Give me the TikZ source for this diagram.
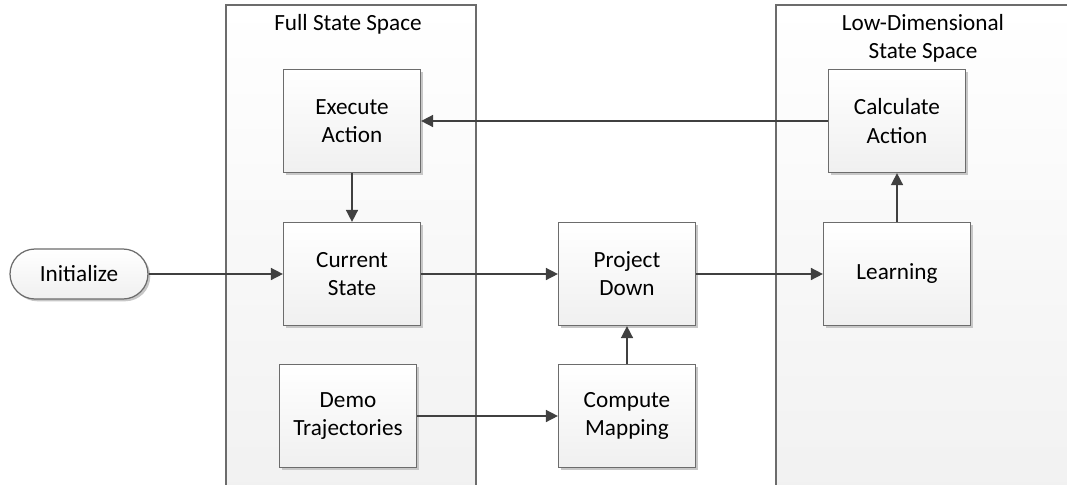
\documentclass[tikz,border=0pt]{standalone}
\usepackage{fontspec}
\setmainfont{Carlito}
\usetikzlibrary{arrows.meta,shadows,calc}

\begin{document}
\begin{tikzpicture}[x=0.02cm, y=-0.02cm,
        font=\fontsize{13.2}{16}\selectfont,
        lane/.style={draw=gray!85!black, line width=0.7pt, top color=white, bottom color=gray!11},
        block/.style={draw=gray!85!black, line width=0.7pt, top color=white, bottom color=gray!12,
            minimum width=2.74cm, minimum height=2.06cm, align=center, inner sep=2pt,
            drop shadow={shadow xshift=1.3pt, shadow yshift=-1.3pt, fill=black!22, opacity=1}},
        flow/.style={draw=black!75, line width=0.9pt, -{Triangle[length=0.24cm, width=0.24cm]}}]
    \useasboundingbox (0,0) rectangle (1067,484);
    \fill[white] (0,0) rectangle (1067,484);
    \begin{scope}
        \clip (0,0) rectangle (1067,484);
        \draw[lane] (226,5) rectangle (476,500);
        \draw[lane] (776,5) rectangle (1090,500);
    \end{scope}
    \node (full) at (348,24) {Full State Space};
    \node[align=center] (low) at (923,38) {Low-Dimensional\\State Space};

    \node[block] (exec) at (352,121) {Execute\\Action};
    \node[block] (cur) at (352,274) {Current\\State};
    \node[block] (demo) at (348,416) {Demo\\Trajectories};
    \node[block] (proj) at (627,274) {Project\\Down};
    \node[block] (comp) at (627,416) {Compute\\Mapping};
    \node[block] (calc) at (897,121) {Calculate\\Action};
    \node[block, minimum width=2.94cm] (learn) at (897,274) {Learning};
    \node[draw=gray!85!black, line width=0.7pt, top color=white, bottom color=gray!12,
        rounded corners=0.5cm, minimum width=2.76cm, minimum height=1cm,
        drop shadow={shadow xshift=1.3pt, shadow yshift=-1.3pt, fill=black!22, opacity=1}]
        (init) at (79,274) {Initialize};

    \draw[flow] (init.east) -- (init.east -| cur.west);
    \draw[flow] (exec) -- (cur);
    \draw[flow] (calc) -- (exec);
    \draw[flow] (cur) -- (proj);
    \draw[flow] (proj) -- (learn);
    \draw[flow] (learn) -- (calc);
    \draw[flow] (demo.east) -- (demo.east -| comp.west);
    \draw[flow] (comp) -- (proj);
\end{tikzpicture}
\end{document}
